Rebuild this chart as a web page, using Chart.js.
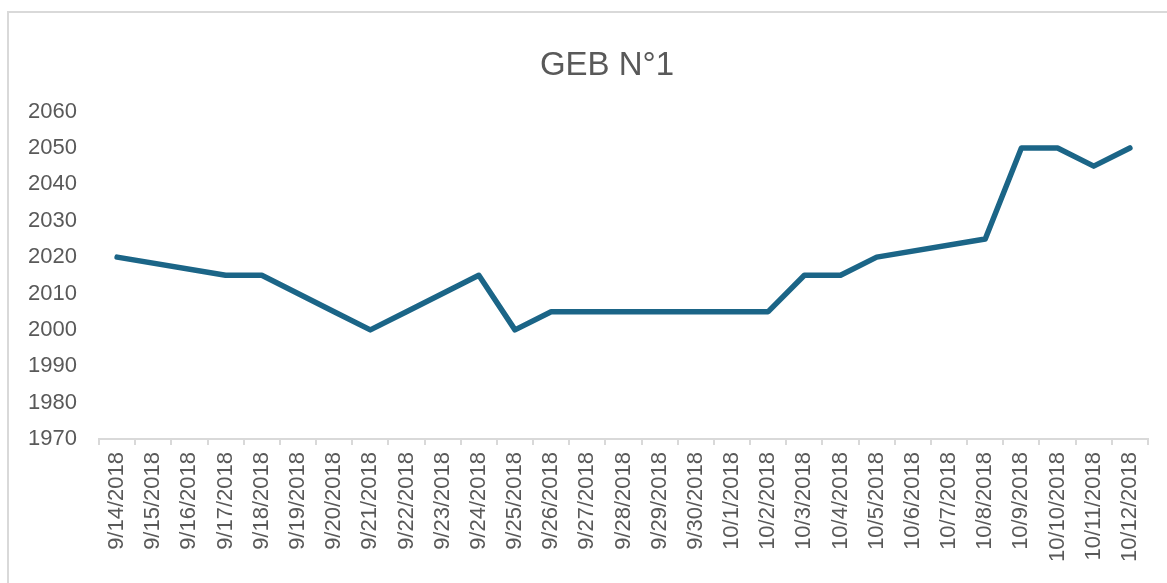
<!DOCTYPE html>
<html>
<head>
<meta charset="utf-8">
<script src="https://cdn.jsdelivr.net/npm/chart.js@4"></script>
<style>
  html, body { margin: 0; padding: 0; background: #fff; }
  #frame {
    position: absolute; left: 7px; top: 11px; width: 1200px; height: 600px;
    border-top: 2px solid #d9d9d9; border-left: 2px solid #d9d9d9;
  }
  #wrap { position: absolute; left: 0; top: 0; width: 1167px; height: 583px; }
</style>
</head>
<body>
<div id="frame"></div>
<div id="wrap"><canvas id="js-canvas-geb" width="1167" height="583"></canvas></div>
<script>
// Our labels along the x-axis
const dates = [
  '9/14/2018', '9/15/2018', '9/16/2018', '9/17/2018', '9/18/2018', '9/19/2018',
  '9/20/2018', '9/21/2018', '9/22/2018', '9/23/2018', '9/24/2018', '9/25/2018',
  '9/26/2018', '9/27/2018', '9/28/2018', '9/29/2018', '9/30/2018', '10/1/2018',
  '10/2/2018', '10/3/2018', '10/4/2018', '10/5/2018', '10/6/2018', '10/7/2018',
  '10/8/2018', '10/9/2018', '10/10/2018', '10/11/2018', '10/12/2018'
];
// Readings (null = no reading, line is joined across)
const values = [
  2020, null, null, 2015, 2015, 2010,
  2005, 2000, 2005, 2010, 2015, 2000,
  2005, 2005, 2005, 2005, 2005, 2005,
  2005, 2015, 2015, 2020, null, null,
  2025, 2050, 2050, 2045, 2050
];
const yMin = 1970;
const yMax = 2060;
const yStep = 10;

const fontFamily = "'Liberation Sans', Arial, sans-serif";
const textColor = '#595959';
const axisColor = '#d9d9d9';

// the original title is centred a bit to the right of the canvas middle
const titleShift = {
  id: 'titleShift',
  afterLayout(chart) {
    if (chart.titleBlock) {
      chart.titleBlock.left += 66;
    }
  }
};

const ctx = document.getElementById('js-canvas-geb');
new Chart(ctx, {
  type: 'line',
  data: {
    labels: dates,
    datasets: [
      {
        data: values,
        borderColor: '#1b6587',
        borderWidth: 5.5,
        borderJoinStyle: 'round',
        borderCapStyle: 'round',
        pointRadius: 0,
        tension: 0,
        spanGaps: true,
        fill: false
      }
    ]
  },
  plugins: [titleShift],
  options: {
    responsive: false,
    devicePixelRatio: 1,
    animation: false,
    layout: { padding: { left: 0, right: 19, top: 0, bottom: 0 } },
    plugins: {
      legend: { display: false },
      tooltip: { enabled: false },
      title: {
        display: true,
        text: 'GEB N°1',
        color: textColor,
        font: { family: fontFamily, size: 33, weight: 'normal' },
        padding: { top: 46, bottom: 26 }
      }
    },
    scales: {
      x: {
        type: 'category',
        offset: true,
        grid: {
          display: true,
          offset: true,
          drawOnChartArea: false,
          drawTicks: true,
          tickLength: 6,
          color: axisColor,
          lineWidth: 2
        },
        border: { display: true, color: axisColor, width: 2 },
        ticks: {
          autoSkip: false,
          minRotation: 90,
          maxRotation: 90,
          padding: 7,
          color: textColor,
          font: { family: fontFamily, size: 22 }
        },
        afterFit: scale => { scale.height = 144; }
      },
      y: {
        min: yMin,
        max: yMax,
        grid: { display: false, drawTicks: false },
        border: { display: false },
        ticks: {
          stepSize: yStep,
          padding: 22,
          color: textColor,
          font: { family: fontFamily, size: 22 },
          callback: v => String(v)
        },
        afterFit: scale => { scale.width = 99; }
      }
    }
  }
});
</script>
</body>
</html>
